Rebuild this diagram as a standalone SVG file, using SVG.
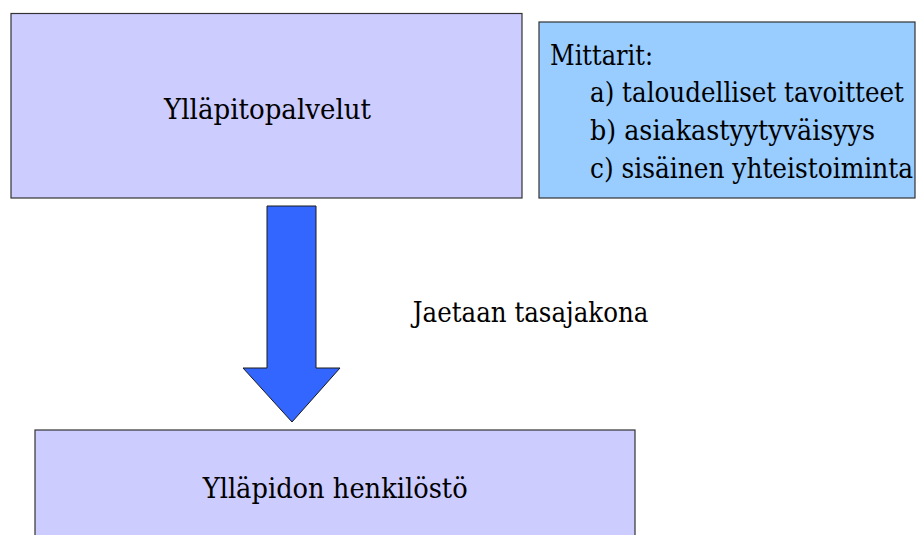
<svg xmlns="http://www.w3.org/2000/svg" width="916" height="535" viewBox="0 0 916 535">
  <style>
    .box { fill: #ccccff; stroke: #333333; stroke-width: 1.2; }
    .note { fill: #99ccff; stroke: #333333; stroke-width: 1.2; }
    .arrow { fill: #3366ff; stroke: #1a1a1a; stroke-width: 1; }
    .t { font-family: "DejaVu Serif", "Liberation Serif", serif; font-size: 28px; fill: #000000; }
  </style>
  <rect width="916" height="535" fill="#ffffff"/>

  <g id="yllapitopalvelut">
    <rect class="box" x="11" y="13.5" width="511" height="184.5"/>
    <text class="t" x="164" y="118.5" textLength="207" lengthAdjust="spacingAndGlyphs">Ylläpitopalvelut</text>
  </g>

  <g id="mittarit">
    <rect class="note" x="539" y="22" width="376" height="176"/>
    <text class="t" x="550" y="65" textLength="103" lengthAdjust="spacingAndGlyphs">Mittarit:</text>
    <text class="t" x="590" y="101.7" textLength="314" lengthAdjust="spacingAndGlyphs">a) taloudelliset tavoitteet</text>
    <text class="t" x="590" y="140" textLength="285" lengthAdjust="spacingAndGlyphs">b) asiakastyytyväisyys</text>
    <text class="t" x="590" y="178.3" textLength="323" lengthAdjust="spacingAndGlyphs">c) sisäinen yhteistoiminta</text>
  </g>

  <g id="connectors">
    <polygon class="arrow" points="267,206 316,206 316,368 340,368 292,422 243,368 267,368"/>
    <text class="t" x="412.7" y="321.7" textLength="235.7" lengthAdjust="spacingAndGlyphs">Jaetaan tasajakona</text>
  </g>

  <g id="yllapidon-henkilosto">
    <rect class="box" x="35" y="430" width="600" height="120"/>
    <text class="t" x="202.7" y="498.3" textLength="265" lengthAdjust="spacingAndGlyphs">Ylläpidon henkilöstö</text>
  </g>
</svg>
